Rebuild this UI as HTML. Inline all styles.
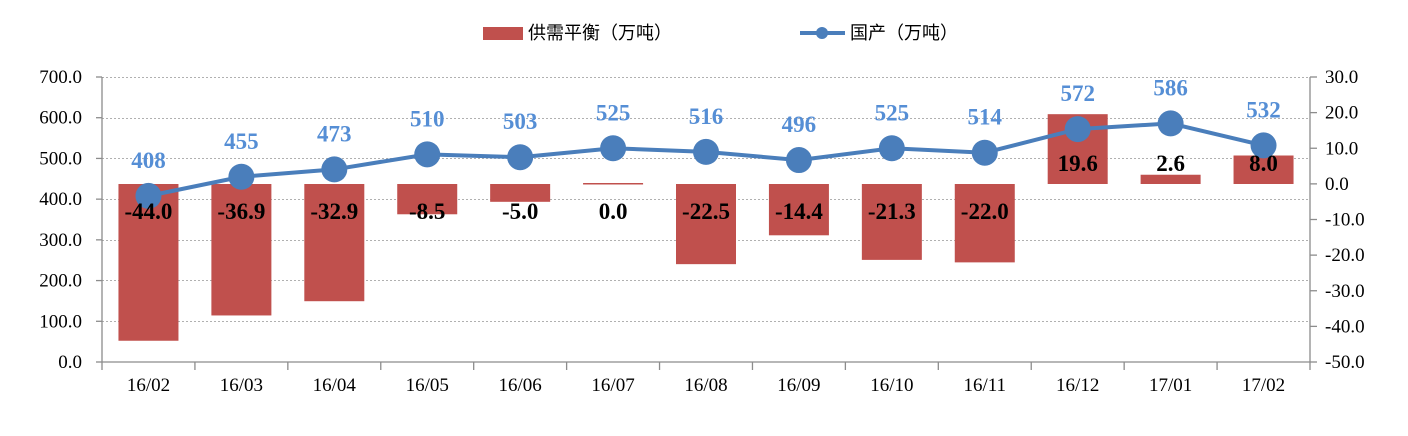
<!DOCTYPE html>
<html><head><meta charset="utf-8"><style>body{margin:0;background:#fff}svg{display:block}</style></head><body>
<svg width="1408" height="436" xmlns="http://www.w3.org/2000/svg" font-family="Liberation Serif, serif">
<g stroke="#b0b0b0" stroke-dasharray="2,2" stroke-width="1">
<line x1="102" x2="1310" y1="77.5" y2="77.5"/><line x1="102" x2="1310" y1="118.5" y2="118.5"/><line x1="102" x2="1310" y1="158.5" y2="158.5"/><line x1="102" x2="1310" y1="199.5" y2="199.5"/><line x1="102" x2="1310" y1="240.5" y2="240.5"/><line x1="102" x2="1310" y1="280.5" y2="280.5"/><line x1="102" x2="1310" y1="321.5" y2="321.5"/>
</g>
<g id="bars" fill="#c0504d"></g>
<g stroke="#8c8c8c" stroke-width="1.3" fill="none">
<line x1="102" y1="77" x2="102" y2="362"/><line x1="1310" y1="77" x2="1310" y2="362"/><line x1="102" y1="362" x2="1310" y2="362"/>
</g>
<g id="ticks" stroke="#8c8c8c" stroke-width="1.3"></g>
<g id="lab" font-size="19" fill="#000"></g>
<g id="line"></g>
<g id="dl" font-weight="bold" font-size="23"></g>
<rect x="483" y="27" width="40" height="13" fill="#c0504d"/>
<text x="528" y="39" font-size="18" font-family="Liberation Sans, Noto Sans CJK SC, sans-serif">供需平衡（万吨）</text>
<line x1="800" y1="33" x2="845" y2="33" stroke="#4a7ebb" stroke-width="4"/><circle cx="822" cy="33" r="6" fill="#4a7ebb"/>
<text x="850" y="39" font-size="18" font-family="Liberation Sans, Noto Sans CJK SC, sans-serif">国产（万吨）</text>
</svg>
<script>
const ns="http://www.w3.org/2000/svg";
function el(p,t,a,txt){const e=document.createElementNS(ns,t);for(const k in a)e.setAttribute(k,a[k]);if(txt!==undefined)e.textContent=txt;document.getElementById(p).appendChild(e);}
const cats=["16/02","16/03","16/04","16/05","16/06","16/07","16/08","16/09","16/10","16/11","16/12","17/01","17/02"];
const bal=[-44.0,-36.9,-32.9,-8.5,-5.0,0.0,-22.5,-14.4,-21.3,-22.0,19.6,2.6,8.0];
const prod=[408,455,473,510,503,525,516,496,525,514,572,586,532];
const cw=1208/13,z=184,rs=285/80;
let pts=[];
cats.forEach((c,i)=>{const cx=102+cw*(i+.5);
 const v=bal[i],h=Math.abs(v)*rs;
 if(v!==0)el("bars","rect",{x:cx-30,y:v>0?z-h:z,width:60,height:h});else el("bars","rect",{x:cx-30,y:z-1,width:60,height:1.5});
 el("lab","text",{x:cx,y:391,"text-anchor":"middle"},c);
 el("ticks","line",{x1:102+cw*i,x2:102+cw*i,y1:362,y2:370});
 const py=362-prod[i]*285/700;pts.push(cx+","+py);
 el("dl","text",{x:cx,y:py-28,"text-anchor":"middle",fill:"#558ed5"},prod[i]);
 el("dl","text",{x:cx,y:v>0?171:219,"text-anchor":"middle",fill:"#000"},v.toFixed(1));
});
el("ticks","line",{x1:1310,x2:1310,y1:362,y2:370});
for(let k=0;k<=7;k++){const y=362-k*285/7;el("ticks","line",{x1:96,x2:102,y1:y,y2:y});el("lab","text",{x:82,y:y+6,"text-anchor":"end"},(k*100).toFixed(1));}
for(let k=0;k<=8;k++){const y=362-k*285/8;el("ticks","line",{x1:1310,x2:1317,y1:y,y2:y});el("lab","text",{x:1325,y:y+6},(-50+k*10).toFixed(1));}
el("line","polyline",{points:pts.join(" "),fill:"none",stroke:"#4a7ebb","stroke-width":4});
pts.forEach(p=>{const [x,y]=p.split(",");el("line","circle",{cx:x,cy:y,r:13,fill:"#4a7ebb"});});
document.querySelector("svg").appendChild(document.getElementById("dl"));
</script>
</body></html>
